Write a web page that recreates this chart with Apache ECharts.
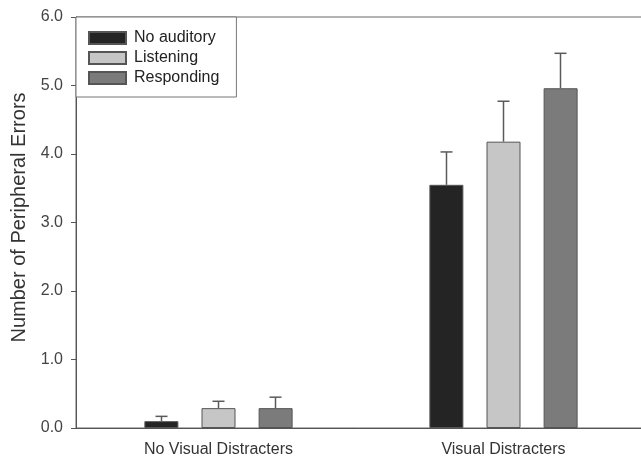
<!DOCTYPE html>
<html>
<head>
<meta charset="utf-8">
<script src="https://cdn.jsdelivr.net/npm/echarts@6/dist/echarts.min.js"></script>
<style>
  html, body { margin: 0; padding: 0; background: #fff; }
  #main { width: 641px; height: 459px; }
</style>
</head>
<body>
<div id="main"></div>
<script>
// data
const categories = ['No Visual Distracters', 'Visual Distracters'];
const seriesNames = ['No auditory', 'Listening', 'Responding'];
const noAuditory = [0.10, 3.55];
const listening = [0.29, 4.18];
const responding = [0.29, 4.96];
// top of the (upward only) error bars
const noAuditoryErr = [0.17, 4.03];
const listeningErr = [0.39, 4.77];
const respondingErr = [0.45, 5.47];

const colors = ['#242424', '#c6c6c6', '#7b7b7b'];
const barW = 34;
const step = 57; // bar width + gap, px

const chart = echarts.init(document.getElementById('main'));

function errSeries(name, means, tops, idx) {
  const offset = (idx - 1) * step;
  return {
    name: name,
    type: 'custom',
    silent: true,
    z: 1,
    data: means.map((m, i) => [i, m, tops[i]]),
    renderItem: (params, api) => {
      const base = api.coord([api.value(0), api.value(1)]);
      const top = api.coord([api.value(0), api.value(2)]);
      const x = base[0] + offset;
      const style = { stroke: '#5a5a5a', lineWidth: 1.5 };
      return {
        type: 'group',
        children: [
          { type: 'line', shape: { x1: x, y1: base[1], x2: x, y2: top[1] }, style: style },
          { type: 'line', shape: { x1: x - 6, y1: top[1], x2: x + 6, y2: top[1] }, style: style }
        ]
      };
    }
  };
}

function barSeries(name, values, idx) {
  return {
    name: name,
    type: 'bar',
    data: values,
    barWidth: barW,
    barGap: ((step - barW) / barW * 100).toFixed(0) + '%',
    z: 2,
    itemStyle: { color: colors[idx], borderColor: '#555', borderWidth: 1 }
  };
}

chart.setOption({
  backgroundColor: '#fff',
  animation: false,
  textStyle: { fontFamily: 'Liberation Sans, Arial, sans-serif' },
  grid: {
    left: 76,
    top: 17,
    bottom: 31,
    width: 570,
    outerBoundsMode: 'none',
    containLabel: false,
    show: true,
    borderColor: '#666',
    borderWidth: 1
  },
  legend: {
    data: seriesNames,
    orient: 'vertical',
    left: 76,
    top: 17,
    padding: [13, 17, 11, 12],
    itemWidth: 37,
    itemHeight: 12,
    itemGap: 4,
    backgroundColor: '#fff',
    borderColor: '#777',
    borderWidth: 1,
    textStyle: { fontSize: 16, color: '#222', padding: [0, 0, 0, 3] },
    icon: 'rect'
  },
  xAxis: {
    type: 'category',
    data: categories,
    axisLine: { lineStyle: { color: '#555' } },
    axisTick: { alignWithLabel: true, length: 5, lineStyle: { color: '#555' } },
    axisLabel: { fontSize: 16, color: '#333', margin: 14 }
  },
  yAxis: {
    type: 'value',
    min: 0,
    max: 6,
    interval: 1,
    name: 'Number of Peripheral Errors',
    nameLocation: 'middle',
    nameGap: 42,
    nameTextStyle: { fontSize: 20, color: '#333', padding: [0, 0, 0, 10] },
    axisLine: { show: true, lineStyle: { color: '#555' } },
    axisTick: { show: true, length: 5, lineStyle: { color: '#555' } },
    splitLine: { show: false },
    axisLabel: {
      fontSize: 16,
      color: '#444',
      margin: 13,
      formatter: v => v.toFixed(1)
    }
  },
  series: [
    barSeries(seriesNames[0], noAuditory, 0),
    barSeries(seriesNames[1], listening, 1),
    barSeries(seriesNames[2], responding, 2),
    errSeries(seriesNames[0], noAuditory, noAuditoryErr, 0),
    errSeries(seriesNames[1], listening, listeningErr, 1),
    errSeries(seriesNames[2], responding, respondingErr, 2)
  ]
});
</script>
</body>
</html>
